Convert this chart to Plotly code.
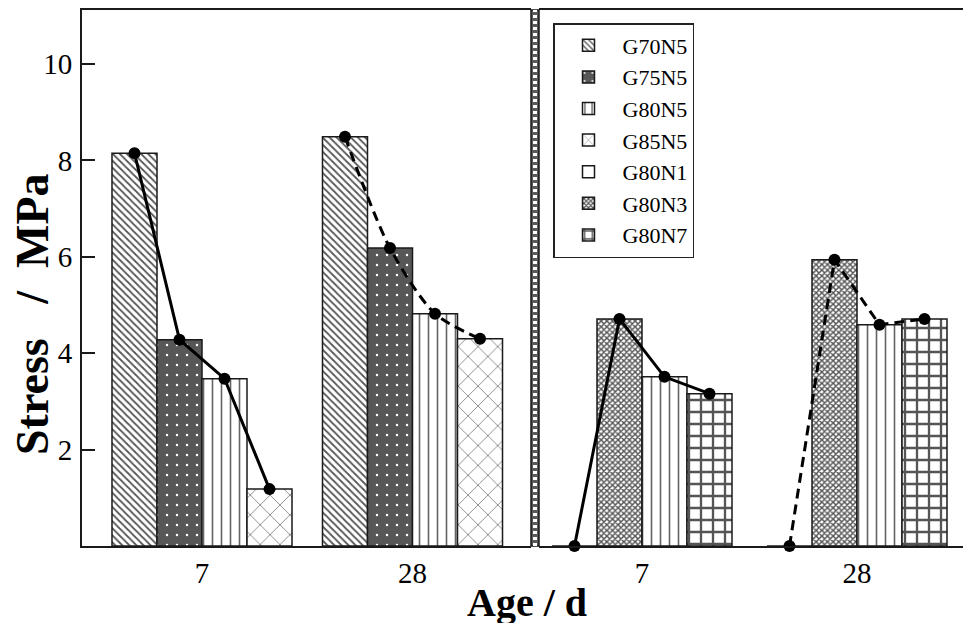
import plotly.graph_objects as go

# ---------------- data ----------------
ages = ["7", "28"]
left_series = ["G70N5", "G75N5", "G80N5", "G85N5"]
right_series = ["G80N1", "G80N3", "G80N5", "G80N7"]

g70n5 = [8.15, 8.49]
g75n5 = [4.28, 6.18]
g80n5_left = [3.47, 4.82]
g85n5 = [1.18, 4.30]

g80n1 = [0.0, 0.0]
g80n3 = [4.71, 5.94]
g80n5_right = [3.51, 4.59]
g80n7 = [3.16, 4.71]

yticks = [2, 4, 6, 8, 10]

left_values = [g70n5, g75n5, g80n5_left, g85n5]
right_values = [g80n1, g80n3, g80n5_right, g80n7]

# ---------------- styles ----------------
FONT = "Liberation Serif"
styles = {
    "G70N5": dict(color="white", pattern=dict(shape="\\", fgcolor="#555555", bgcolor="white", size=5, solidity=0.35)),
    "G75N5": dict(color="#575757", pattern=dict(shape=".", fgcolor="white", bgcolor="#575757", size=10, solidity=0.05)),
    "G80N5": dict(color="white", pattern=dict(shape="|", fgcolor="#666666", bgcolor="white", size=9, solidity=0.18)),
    "G85N5": dict(color="white", pattern=dict(shape="x", fgcolor="#666666", bgcolor="white", size=14, solidity=0.1)),
    "G80N1": dict(color="white"),
    "G80N3": dict(color="#888888", pattern=dict(shape="x", fgcolor="#555555", bgcolor="white", size=4, solidity=0.6)),
    "G80N7": dict(color="#666666", pattern=dict(shape="+", fgcolor="#555555", bgcolor="white", size=12, solidity=0.35)),
}

# page offset of the plot div (browser body margin)
OFF = 8
W, H = 971 - OFF, 623 - OFF
ML, MR, MT = 82 - OFF, 0, 10 - OFF
plot_w = W - ML - MR          # 889
plot_h = 536
MB = H - MT - plot_h

def px_x(page_x):
    return (page_x - 82) / plot_w

def px_y(page_y):
    return (546 - page_y) / plot_h

left_dom = [0, px_x(531)]
right_dom = [px_x(539), 1]

wl = 0.2138  # bar width (units) left panel
wr = 0.2093  # bar width (units) right panel

fig = go.Figure()

legend_order = ["G70N5", "G75N5", "G80N5", "G85N5", "G80N1", "G80N3", "G80N7"]
shown = set()

def add_bars(series, values, w, xaxis, yaxis):
    for s, (name, vals) in enumerate(zip(series, values)):
        st = styles[name]
        marker = dict(color=st["color"], line=dict(color="#1a1a1a", width=1.5))
        if "pattern" in st:
            marker["pattern"] = dict(fillmode="replace", **st["pattern"])
        fig.add_trace(go.Bar(
            x=list(range(len(ages))), y=vals, name=name,
            width=w, offset=(s - 2) * w,
            marker=marker, xaxis=xaxis, yaxis=yaxis,
            legendgroup=name, showlegend=name not in shown,
            legendrank=legend_order.index(name) + 1,
        ))
        shown.add(name)

add_bars(left_series, left_values, wl, "x", "y")
add_bars(right_series, right_values, wr, "x2", "y2")

def add_lines(values, w, xaxis, yaxis, smooth_second):
    for g in range(len(ages)):
        xs = [g + (s - 1.5) * w for s in range(len(values))]
        ys = [v[g] for v in values]
        dashed = g == 1
        fig.add_trace(go.Scatter(
            x=xs, y=ys, mode="lines+markers", showlegend=False,
            line=dict(color="black", width=3, dash="10px,6px" if dashed else "solid",
                      shape="spline" if (dashed and smooth_second) else "linear", smoothing=0.8),
            marker=dict(color="black", size=12),
            cliponaxis=False, xaxis=xaxis, yaxis=yaxis, hoverinfo="skip",
        ))

add_lines(left_values, wl, "x", "y", True)
add_lines(right_values, wr, "x2", "y2", False)

ymax = (546.5 - 10) / 48.25
axis_font = dict(family=FONT, size=29, color="black")

fig.update_layout(
    width=W, height=H,
    margin=dict(l=ML, r=MR, t=MT, b=MB),
    paper_bgcolor="white", plot_bgcolor="white",
    barmode="overlay",
    showlegend=True,
    legend=dict(
        x=px_x(553), y=px_y(23), xanchor="left", yanchor="top",
        bgcolor="white", bordercolor="#222222", borderwidth=1.5,
        font=dict(family=FONT, size=22, color="black"),
        traceorder="normal", itemwidth=58,
    ),
    xaxis=dict(domain=left_dom, range=[-(202 - 82) / 210.5, 1 + (531 - 412.5) / 210.5],
               tickvals=[0, 1], ticktext=ages, ticks="", tickfont=axis_font,
               showline=True, linecolor="#1a1a1a", linewidth=2, mirror=True,
               showgrid=False, zeroline=False, ticklabelstandoff=0),
    xaxis2=dict(domain=right_dom, anchor="y2", range=[-(642 - 539) / 215, 1 + (971 - 857) / 215],
                tickvals=[0, 1], ticktext=ages, ticks="", tickfont=axis_font,
                showline=True, linecolor="#1a1a1a", linewidth=2, mirror=True,
                showgrid=False, zeroline=False, ticklabelstandoff=0),
    yaxis=dict(range=[0, ymax], tickvals=yticks, ticks="inside", ticklen=13, tickwidth=1.5,
               tickcolor="#1a1a1a", tickfont=axis_font, showline=True, linecolor="#1a1a1a",
               linewidth=2, showgrid=False, zeroline=False, ticklabelstandoff=2),
    yaxis2=dict(range=[0, ymax], anchor="x2", showticklabels=False, ticks="",
                showline=False, showgrid=False, zeroline=False),
)

# separator between panels
fig.add_shape(type="rect", xref="paper", yref="paper", x0=left_dom[1], x1=right_dom[0], y0=0, y1=1,
              fillcolor="#5a5a5a", line=dict(color="#1a1a1a", width=1.5), layer="above")
fig.add_shape(type="line", xref="paper", yref="paper",
              x0=(left_dom[1] + right_dom[0]) / 2, x1=(left_dom[1] + right_dom[0]) / 2, y0=0, y1=1,
              line=dict(color="white", width=4, dash="3px,3px"), layer="above")

# axis titles
NB = "\u00a0"
fig.add_annotation(text="<b>Age / d</b>", xref="paper", yref="paper",
                   x=0.5, y=px_y(602), xanchor="center", yanchor="middle",
                   showarrow=False, font=dict(family=FONT, size=40, color="black"))
fig.add_annotation(text="<b>Stress" + NB * 3 + "/" + NB * 2 + "MPa</b>", xref="paper", yref="paper",
                   x=px_x(32), y=px_y(314), xanchor="center", yanchor="middle",
                   textangle=-90, showarrow=False, font=dict(family=FONT, size=46, color="black"))

fig.write_html("out.html")
